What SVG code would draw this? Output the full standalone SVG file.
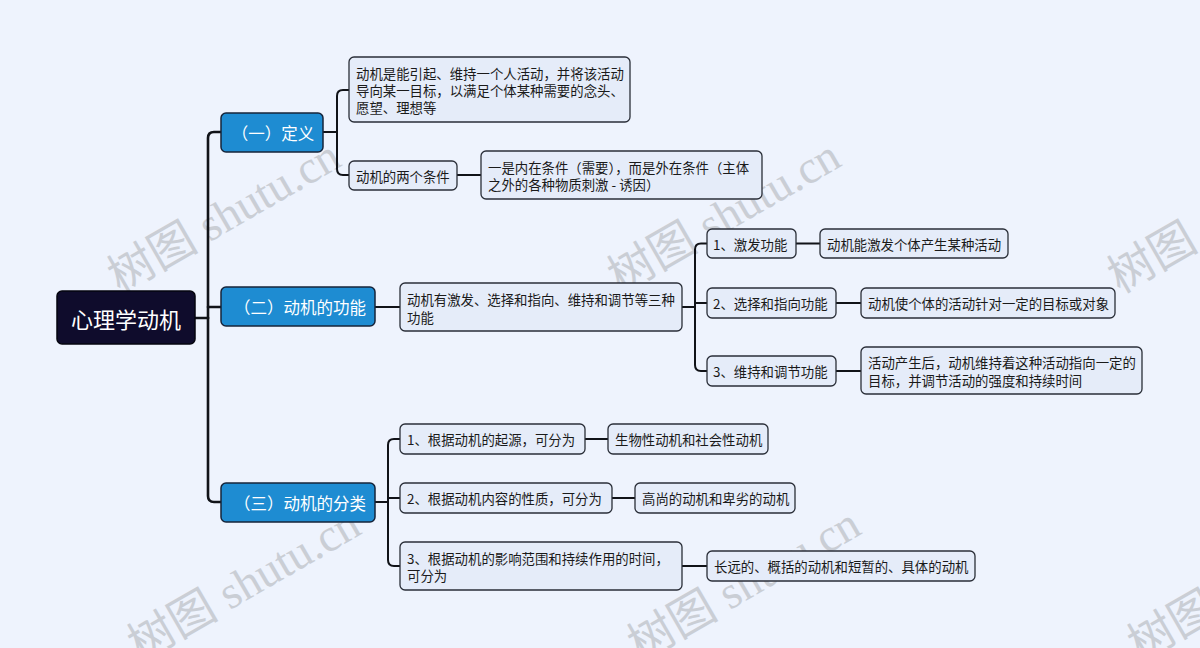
<svg xmlns="http://www.w3.org/2000/svg" width="1200" height="648" viewBox="0 0 1200 648">
<style>
.bg{fill:#EEF3FD}
.wm{font-family:"Liberation Serif","Noto Sans CJK SC",serif;font-size:46px;fill:#C4C8CF;opacity:0.85}
.root rect{fill:#0F0C2C;stroke:#05050F;stroke-width:1.5}
.root text{font-family:"Noto Sans CJK SC","Noto Sans",sans-serif;font-size:22px;fill:#FFFFFF;text-anchor:middle;dominant-baseline:central}
.l1 rect{fill:#1E8CD2;stroke:#16243A;stroke-width:1.5}
.l1 text{font-family:"Noto Sans CJK SC","Noto Sans",sans-serif;font-size:16.5px;fill:#FFFFFF;text-anchor:middle;dominant-baseline:central}
.l2 rect{fill:#E5ECF9;stroke:#2A2E38;stroke-width:1.3}
.l2 text{font-family:"Noto Sans CJK SC","Noto Sans",sans-serif;font-size:13.4px;fill:#1A1A1A;dominant-baseline:central}
.cn path{fill:none;stroke:#111318;stroke-width:2;stroke-linecap:round}
.cn path.trunk{stroke-width:2.6}
</style>
<rect class="bg" x="0" y="0" width="1200" height="648"/>
<g id="watermarks">
<text class="wm" transform="translate(120,294) rotate(-30)">树图 shutu.cn</text>
<text class="wm" transform="translate(620,294) rotate(-30)">树图 shutu.cn</text>
<text class="wm" transform="translate(1120,294) rotate(-30)">树图 shutu.cn</text>
<text class="wm" transform="translate(140,662) rotate(-30)">树图 shutu.cn</text>
<text class="wm" transform="translate(640,662) rotate(-30)">树图 shutu.cn</text>
<text class="wm" transform="translate(1140,662) rotate(-30)">树图 shutu.cn</text>
</g>
<g id="connectors" class="cn">
<path class="trunk" d="M195,318 H208"/>
<path class="trunk" d="M208,318 V138 Q208,132 214,132 H221"/>
<path class="trunk" d="M208,318 V496 Q208,502 214,502 H221"/>
<path class="trunk" d="M208,307 H221"/>
<path d="M323,132 H337"/>
<path d="M337,132 V96 Q337,90 343,90 H349"/>
<path d="M337,132 V169 Q337,175 343,175 H349"/>
<path d="M457,175 H481"/>
<path d="M375,307 H400"/>
<path d="M682,307 H695"/>
<path d="M695,307 V249.5 Q695,243.5 701,243.5 H707"/>
<path d="M695,303 H707"/>
<path d="M695,307 V365 Q695,371 701,371 H707"/>
<path d="M796,243.5 H820"/>
<path d="M836,303 H861"/>
<path d="M836,371 H861"/>
<path d="M375,502 H388"/>
<path d="M388,502 V445 Q388,439 394,439 H400"/>
<path d="M388,498 H400"/>
<path d="M388,502 V560 Q388,566 394,566 H400"/>
<path d="M585,439 H608"/>
<path d="M612,498 H635"/>
<path d="M682,566 H707"/>
</g>
<g id="root" class="root">
<rect x="57" y="291" width="138" height="53" rx="5"/>
<text x="126" y="318">心理学动机</text>
</g>
<g id="n-def" class="l1">
<rect x="221" y="113" width="102" height="39" rx="5"/>
<text x="273" y="132.5">（一）定义</text>
</g>
<g id="n-func" class="l1">
<rect x="221" y="287" width="154" height="39" rx="5"/>
<text x="300" y="306.5">（二）动机的功能</text>
</g>
<g id="n-class" class="l1">
<rect x="221" y="483" width="154" height="39" rx="5"/>
<text x="300" y="502.5">（三）动机的分类</text>
</g>
<g id="n-def-1" class="l2">
<rect x="349" y="57" width="281" height="65" rx="5"/>
<text x="356" y="73">动机是能引起、维持一个人活动，并将该活动</text>
<text x="356" y="90">导向某一目标，以满足个体某种需要的念头、</text>
<text x="356" y="107">愿望、理想等</text>
</g>
<g id="n-def-2" class="l2">
<rect x="349" y="161" width="108" height="29" rx="5"/>
<text x="356" y="175.5">动机的两个条件</text>
</g>
<g id="n-def-2-1" class="l2">
<rect x="481" y="151" width="281" height="48" rx="5"/>
<text x="488" y="166.5">一是内在条件（需要），而是外在条件（主体</text>
<text x="488" y="184">之外的各种物质刺激 - 诱因）</text>
</g>
<g id="n-func-1" class="l2">
<rect x="400" y="283" width="282" height="48" rx="5"/>
<text x="407" y="299">动机有激发、选择和指向、维持和调节等三种</text>
<text x="407" y="316.5">功能</text>
</g>
<g id="n-func-a" class="l2">
<rect x="707" y="229" width="89" height="29" rx="5"/>
<text x="713" y="243.5">1、激发功能</text>
</g>
<g id="n-func-a-1" class="l2">
<rect x="820" y="229" width="188" height="29" rx="5"/>
<text x="827" y="243.5">动机能激发个体产生某种活动</text>
</g>
<g id="n-func-b" class="l2">
<rect x="707" y="288" width="129" height="30" rx="5"/>
<text x="713" y="303">2、选择和指向功能</text>
</g>
<g id="n-func-b-1" class="l2">
<rect x="861" y="288" width="254" height="30" rx="5"/>
<text x="868" y="303">动机使个体的活动针对一定的目标或对象</text>
</g>
<g id="n-func-c" class="l2">
<rect x="707" y="356" width="129" height="30" rx="5"/>
<text x="713" y="371">3、维持和调节功能</text>
</g>
<g id="n-func-c-1" class="l2">
<rect x="861" y="347" width="281" height="47" rx="5"/>
<text x="868" y="362">活动产生后，动机维持着这种活动指向一定的</text>
<text x="868" y="379.5">目标，并调节活动的强度和持续时间</text>
</g>
<g id="n-class-a" class="l2">
<rect x="400" y="424" width="185" height="30" rx="5"/>
<text x="407" y="439">1、根据动机的起源，可分为</text>
</g>
<g id="n-class-a-1" class="l2">
<rect x="608" y="424" width="160" height="30" rx="5"/>
<text x="615" y="439">生物性动机和社会性动机</text>
</g>
<g id="n-class-b" class="l2">
<rect x="400" y="483" width="212" height="30" rx="5"/>
<text x="407" y="498">2、根据动机内容的性质，可分为</text>
</g>
<g id="n-class-b-1" class="l2">
<rect x="635" y="483" width="160" height="30" rx="5"/>
<text x="642" y="498">高尚的动机和卑劣的动机</text>
</g>
<g id="n-class-c" class="l2">
<rect x="400" y="542" width="282" height="48" rx="5"/>
<text x="407" y="557.5">3、根据动机的影响范围和持续作用的时间，</text>
<text x="407" y="575">可分为</text>
</g>
<g id="n-class-c-1" class="l2">
<rect x="707" y="551" width="268" height="30" rx="5"/>
<text x="714" y="566">长远的、概括的动机和短暂的、具体的动机</text>
</g>
</svg>
